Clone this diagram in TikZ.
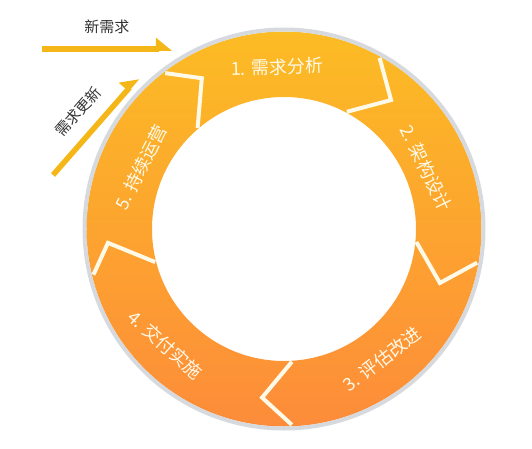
\documentclass[tikz,border=0pt]{standalone}
\usepackage{fontspec}
\setmainfont{Noto Sans CJK SC}
\usetikzlibrary{arrows.meta, positioning}

\definecolor{ringtop}{RGB}{252,188,36}
\definecolor{ringbot}{RGB}{253,140,58}
\definecolor{rimgrey}{RGB}{214,218,222}
\definecolor{cutcream}{RGB}{255,249,232}
\definecolor{flowgold}{RGB}{245,183,24}
\definecolor{notegrey}{RGB}{51,51,51}

\begin{document}
\begin{tikzpicture}[
  x=1pt, y=1pt,
  steplabel/.style = {text=cutcream, font=\fontsize{18}{20}\selectfont, inner sep=0pt},
  note/.style = {text=notegrey, font=\fontsize{15}{17}\selectfont, inner sep=0pt},
  flow/.style = {draw=flowgold, line width=5.5pt, -{Triangle[harpoon, length=14pt, width=22pt]}},
  cutline/.style = {draw=cutcream, line width=4pt}
]
  \useasboundingbox (-284,-219) rectangle (248,229);

  % Ring
  \coordinate (hub) at (0,0);
  \shade[top color=ringtop, bottom color=ringbot, even odd rule]
    (hub) circle (197.5pt) (hub) circle (132pt);
  \draw[rimgrey, line width=4pt] (hub) circle (199.5pt);

  % Chevron cuts between the stages
  \foreach \outer/\tip/\tipr/\inner in {127.3/118.6/171.7/130.5, 60.8/50.3/167.6/61.8,
      -9.9/-19.1/165/-5.6, -87.7/-97.4/170/-86.6, 193.5/184.5/176.6/194.4}
    \draw[cutline] (\outer:196) -- (\tip:\tipr) -- (\inner:133);

  % Stage labels
  \node[steplabel, rotate=2] (analyse) at (92.5:162.2) {1. 需求分析};
  \node[steplabel, rotate=-64] (design) at (23.2:154.5) {2. 架构设计};
  \node[steplabel, rotate=38] (review) at (-53:162.8) {3. 评估改进};
  \node[steplabel, rotate=-42] (deliver) at (-135.7:166) {4. 交付实施};
  \node[steplabel, rotate=63] (operate) at (156.6:155.9) {5. 持续运营};

  % New requirement
  \coordinate (newstart) at (-242,180);
  \coordinate (newend) at (-112,180);
  \draw[flow] (newstart) -- node[note, above=13pt] (newlabel) {新需求} (newend);

  % Requirement update
  \coordinate (updstart) at (-231,54);
  \coordinate (updend) at (-146,151);
  \draw[flow] (updstart) -- node[note, sloped, above=13pt] (updlabel) {需求更新} (updend);

\end{tikzpicture}
\end{document}
